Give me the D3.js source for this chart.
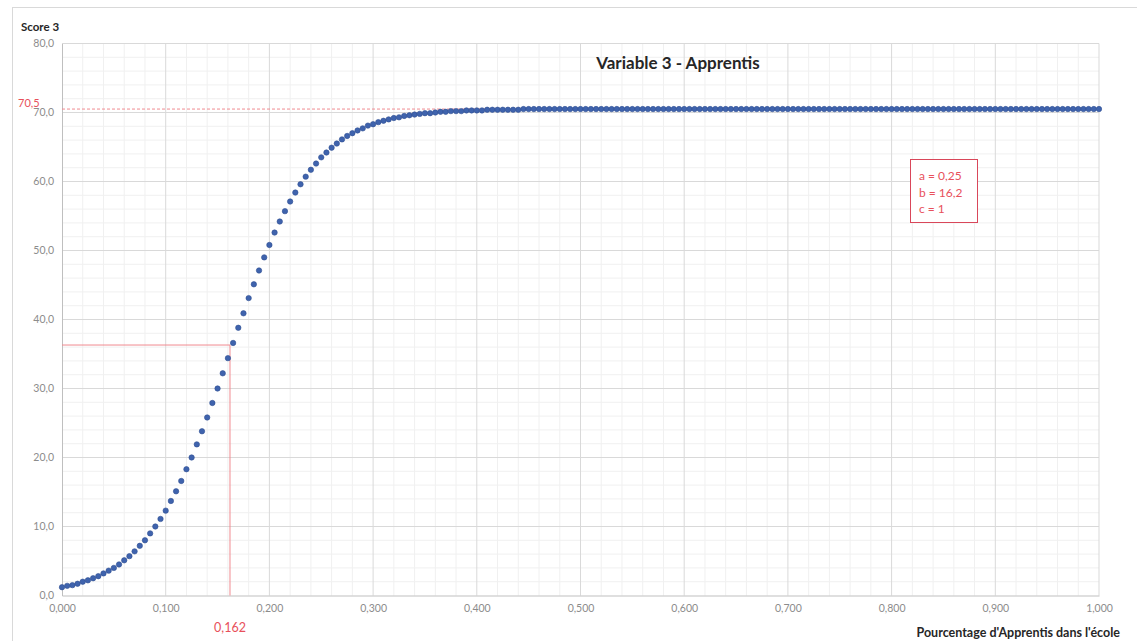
<!DOCTYPE html>
<html>
<head>
<meta charset="utf-8">
<script src="https://cdn.jsdelivr.net/npm/d3@7"></script>
<style>
  html, body { margin: 0; padding: 0; background: #ffffff; }
  svg { display: block; font-family: Lato, "Open Sans", sans-serif; }
</style>
</head>
<body>
<svg id="chart" width="1137" height="641"></svg>
<script>
// Sampling step of the share of apprentices (x) between consecutive points
const xStep = 0.005;

// Score 3 for each x = 0, 0.005, 0.010, ... 1.000
const scoreValues = [
  1.2, 1.4, 1.5, 1.7, 2.0, 2.2, 2.5, 2.8, 3.2, 3.6,
  4.0, 4.5, 5.1, 5.7, 6.4, 7.2, 8.0, 9.0, 10.0, 11.1,
  12.3, 13.7, 15.1, 16.6, 18.3, 20.0, 21.9, 23.8, 25.8, 27.9,
  30.0, 32.2, 34.4, 36.6, 38.8, 40.9, 43.1, 45.1, 47.1, 49.0,
  50.8, 52.6, 54.2, 55.7, 57.1, 58.4, 59.6, 60.7, 61.7, 62.6,
  63.5, 64.2, 64.9, 65.5, 66.1, 66.6, 67.0, 67.4, 67.7, 68.1,
  68.3, 68.6, 68.8, 69.0, 69.2, 69.3, 69.5, 69.6, 69.7, 69.8,
  69.9, 69.9, 70.0, 70.1, 70.1, 70.2, 70.2, 70.2, 70.3, 70.3,
  70.3, 70.3, 70.4, 70.4, 70.4, 70.4, 70.4, 70.4, 70.4, 70.5,
  70.5, 70.5, 70.5, 70.5, 70.5, 70.5, 70.5, 70.5, 70.5, 70.5,
  70.5, 70.5, 70.5, 70.5, 70.5, 70.5, 70.5, 70.5, 70.5, 70.5,
  70.5, 70.5, 70.5, 70.5, 70.5, 70.5, 70.5, 70.5, 70.5, 70.5,
  70.5, 70.5, 70.5, 70.5, 70.5, 70.5, 70.5, 70.5, 70.5, 70.5,
  70.5, 70.5, 70.5, 70.5, 70.5, 70.5, 70.5, 70.5, 70.5, 70.5,
  70.5, 70.5, 70.5, 70.5, 70.5, 70.5, 70.5, 70.5, 70.5, 70.5,
  70.5, 70.5, 70.5, 70.5, 70.5, 70.5, 70.5, 70.5, 70.5, 70.5,
  70.5, 70.5, 70.5, 70.5, 70.5, 70.5, 70.5, 70.5, 70.5, 70.5,
  70.5, 70.5, 70.5, 70.5, 70.5, 70.5, 70.5, 70.5, 70.5, 70.5,
  70.5, 70.5, 70.5, 70.5, 70.5, 70.5, 70.5, 70.5, 70.5, 70.5,
  70.5, 70.5, 70.5, 70.5, 70.5, 70.5, 70.5, 70.5, 70.5, 70.5,
  70.5
];

// Axis ticks
const xTicks = [0, 0.1, 0.2, 0.3, 0.4, 0.5, 0.6, 0.7, 0.8, 0.9, 1.0];
const yTicks = [0, 10, 20, 30, 40, 50, 60, 70, 80];

// Reference markers: plateau and mid-point of the curve
const plateauValue = 70.5;
const midX = 0.162;
const midY = 36.3;

// Curve parameters shown in the note box
const paramLines = ["a = 0,25", "b = 16,2", "c = 1"];

const chartTitle = "Variable 3 - Apprentis";
const yTitle = "Score 3";
const xTitle = "Pourcentage d'Apprentis dans l'école";

const points = scoreValues.map((v, i) => ({ x: i * xStep, y: v }));

const frLocale = d3.formatLocale({ decimal: ",", thousands: " ", grouping: [3], currency: ["", " €"] });
const fmtX = frLocale.format(".3f");
const fmtY = frLocale.format(".1f");

const plot = { left: 62, right: 1099, top: 43.5, bottom: 595.5 };

const x = d3.scaleLinear().domain([0, 1]).range([plot.left, plot.right]);
const y = d3.scaleLinear().domain([0, 80]).range([plot.bottom, plot.top]);

const svg = d3.select("#chart");

// Outer chart frame
svg.append("rect")
  .attr("x", 12.5).attr("y", 7.5)
  .attr("width", 1140).attr("height", 650)
  .attr("fill", "#ffffff").attr("stroke", "#d9d9d9");

// Minor gridlines
const minorX = d3.range(0, 1.0001, 0.02).filter(v => Math.abs(v * 10 - Math.round(v * 10)) > 1e-6);
const minorY = d3.range(0, 80.001, 2).filter(v => v % 10 !== 0);
const grid = svg.append("g");
grid.selectAll(".mx").data(minorX).join("line")
  .attr("x1", d => x(d)).attr("x2", d => x(d))
  .attr("y1", plot.top).attr("y2", plot.bottom)
  .attr("stroke", "#f0f0f0").attr("stroke-width", 1);
grid.selectAll(".my").data(minorY).join("line")
  .attr("x1", plot.left).attr("x2", plot.right)
  .attr("y1", d => y(d)).attr("y2", d => y(d))
  .attr("stroke", "#f0f0f0").attr("stroke-width", 1);

// Major gridlines
grid.selectAll(".gx").data(xTicks.slice(1)).join("line")
  .attr("x1", d => x(d)).attr("x2", d => x(d))
  .attr("y1", plot.top).attr("y2", plot.bottom)
  .attr("stroke", "#d9d9d9").attr("stroke-width", 1);
grid.selectAll(".gy").data(yTicks.slice(1)).join("line")
  .attr("x1", plot.left).attr("x2", plot.right)
  .attr("y1", d => y(d)).attr("y2", d => y(d))
  .attr("stroke", "#d9d9d9").attr("stroke-width", 1);

// Axes
const xAxis = d3.axisBottom(x).tickValues(xTicks).tickFormat(fmtX).tickSize(0).tickPadding(9);
const yAxis = d3.axisLeft(y).tickValues(yTicks).tickFormat(fmtY).tickSize(0).tickPadding(8);

const gx = svg.append("g").attr("transform", `translate(0,${plot.bottom})`).call(xAxis);
const gy = svg.append("g").attr("transform", `translate(${plot.left},0)`).call(yAxis);
[gx, gy].forEach(g => {
  g.select(".domain").attr("stroke", "#bfbfbf");
  g.selectAll("text").attr("fill", "#8c8c8c").style("font-size", "10.5px").style("font-family", "Lato, sans-serif");
});

// Red reference lines
const red = "#e8505b";
svg.append("line")
  .attr("x1", plot.left).attr("x2", plot.right)
  .attr("y1", y(plateauValue)).attr("y2", y(plateauValue))
  .attr("stroke", "#f08a90").attr("stroke-width", 1).attr("stroke-dasharray", "3,2");
svg.append("line")
  .attr("x1", plot.left).attr("x2", x(midX))
  .attr("y1", y(midY)).attr("y2", y(midY))
  .attr("stroke", "#f08a90").attr("stroke-width", 1);
svg.append("line")
  .attr("x1", x(midX)).attr("x2", x(midX))
  .attr("y1", y(midY)).attr("y2", plot.bottom)
  .attr("stroke", "#f08a90").attr("stroke-width", 1);

// Red value labels
svg.append("text")
  .attr("x", 18).attr("y", y(plateauValue) - 2)
  .attr("fill", red).style("font-size", "11px")
  .text(fmtY(plateauValue));
svg.append("text")
  .attr("x", x(midX)).attr("y", 632)
  .attr("text-anchor", "middle")
  .attr("fill", red).style("font-size", "12.5px")
  .text(frLocale.format(".3f")(midX));

// Data points
svg.append("g").selectAll("circle").data(points).join("circle")
  .attr("cx", d => x(d.x)).attr("cy", d => y(d.y))
  .attr("r", 2.7)
  .attr("fill", "#3f63ad").attr("stroke", "#2f4f92").attr("stroke-width", 0.6);

// Title
svg.append("text")
  .attr("x", 678).attr("y", 69)
  .attr("text-anchor", "middle")
  .attr("fill", "#262626")
  .style("font-size", "17px").style("font-weight", "bold")
  .text(chartTitle);

// Axis titles
svg.append("text")
  .attr("x", 21).attr("y", 31)
  .attr("fill", "#262626")
  .style("font-size", "11.5px").style("font-weight", "bold")
  .text(yTitle);
svg.append("text")
  .attr("x", 1120).attr("y", 637)
  .attr("text-anchor", "end")
  .attr("fill", "#262626")
  .style("font-size", "12.5px").style("font-weight", "bold")
  .text(xTitle);

// Parameter box
const box = svg.append("g");
box.append("rect")
  .attr("x", 910.5).attr("y", 159.5)
  .attr("width", 67).attr("height", 63)
  .attr("fill", "#ffffff").attr("stroke", "#d9475a").attr("stroke-width", 1);
box.selectAll("text").data(paramLines).join("text")
  .attr("x", 919).attr("y", (d, i) => 180 + i * 16.5)
  .attr("fill", red).style("font-size", "12px")
  .text(d => d);
</script>
</body>
</html>
